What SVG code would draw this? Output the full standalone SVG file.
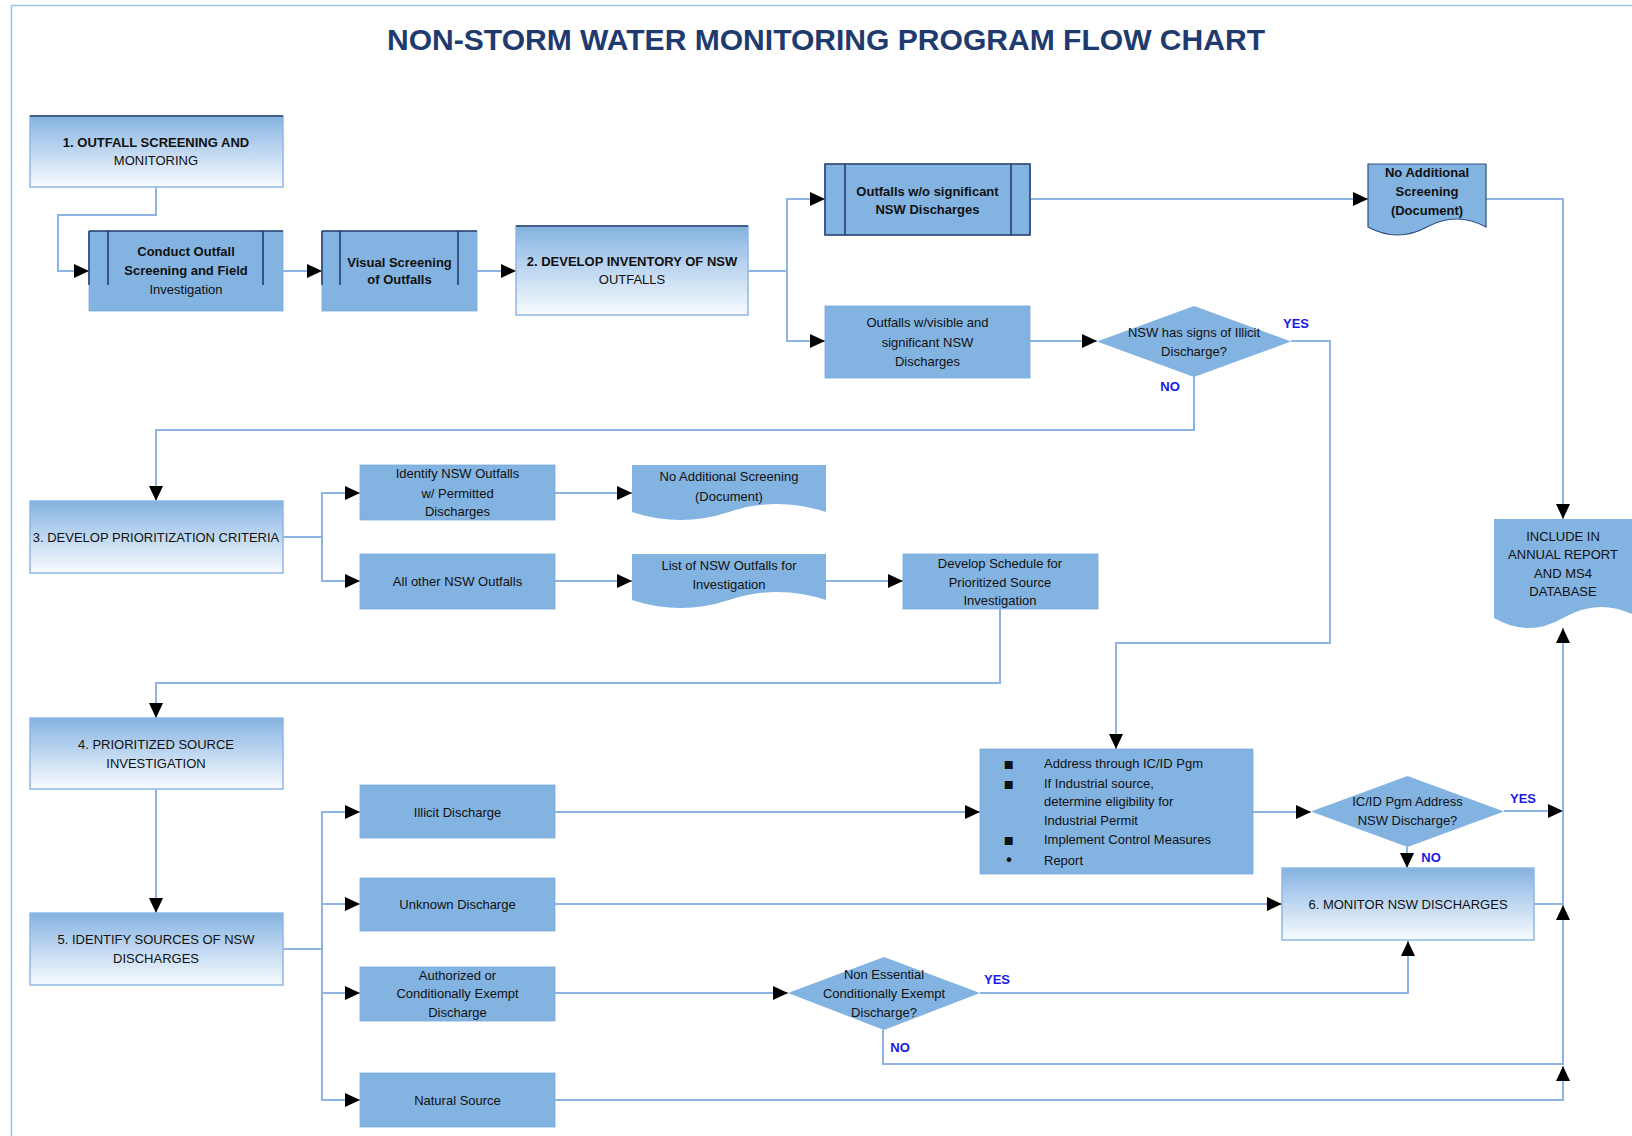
<svg xmlns="http://www.w3.org/2000/svg" width="1632" height="1136" viewBox="0 0 1632 1136">
<defs>
  <linearGradient id="grad" x1="0" y1="0" x2="0" y2="1">
    <stop offset="0" stop-color="#84B1DF"/>
    <stop offset="0.2" stop-color="#9DC2E8"/>
    <stop offset="1" stop-color="#F8FBFE"/>
  </linearGradient>
  <marker id="arr" markerUnits="userSpaceOnUse" markerWidth="16" markerHeight="14" refX="15" refY="7" orient="auto" viewBox="0 0 16 14">
    <path d="M0,0 L15,7 L0,14 Z" fill="#000"/>
  </marker>
  <style>
    .t { font-family: "Liberation Sans", Arial, sans-serif; font-size: 13px; fill: #111; text-anchor: middle; dominant-baseline: central; }
    .b { font-weight: bold; }
    .tl { text-anchor: start; }
    .bul { font-family: "DejaVu Sans", sans-serif; font-size: 16px; fill: #111; text-anchor: middle; dominant-baseline: central; }
    .lab { font-family: "Liberation Sans", Arial, sans-serif; font-size: 13px; font-weight: bold; fill: #1A1AE6; text-anchor: middle; dominant-baseline: central; }
    .title { font-family: "Liberation Sans", Arial, sans-serif; font-size: 30px; font-weight: bold; fill: #1F3A6E; text-anchor: middle; }
    .gbox { fill: url(#grad); stroke: #8FB8E4; stroke-width: 1.5; }
    .sbox { fill: #83B3E1; stroke: #7AAAD9; stroke-width: 0.8; }
    .dark { fill: none; stroke: #26406E; stroke-width: 1.6; }
    .dia { fill: #83B3E1; }
    .c { fill: none; stroke: #8DB4E2; stroke-width: 2; marker-end: url(#arr); }
    .frame { fill: none; stroke: #9DC3E6; stroke-width: 1.5; }
  </style>
</defs>
<rect width="1632" height="1136" fill="#fff"/>
<path class="frame" d="M11.5,1136 V5.5 H1632"/>
<text class="title" x="826" y="49.5" textLength="878" lengthAdjust="spacingAndGlyphs">NON-STORM WATER MONITORING PROGRAM FLOW CHART</text>

<g id="connectors">
  <path class="c" d="M156,187 V215 H58 V271 H89"/>
  <path class="c" d="M283,271 H322"/>
  <path class="c" d="M477,271 H516"/>
  <path class="c" d="M748,271 H787 V199 H825"/>
  <path class="c" d="M787,271 V341 H825"/>
  <path class="c" d="M1030,199 H1368"/>
  <path class="c" d="M1486,199 H1563 V519"/>
  <path class="c" d="M1030,341 H1097"/>
  <path class="c" d="M1291,341 H1330 V643 H1116 V749"/>
  <path class="c" d="M1194,377 V430 H156 V501"/>
  <path class="c" d="M283,537 H322 V493 H360"/>
  <path class="c" d="M322,537 V581 H360"/>
  <path class="c" d="M555,493 H632"/>
  <path class="c" d="M555,581 H632"/>
  <path class="c" d="M826,581 H903"/>
  <path class="c" d="M1000,609 V683 H156 V718"/>
  <path class="c" d="M156,789 V913"/>
  <path class="c" d="M283,949 H322 V812 H360"/>
  <path class="c" d="M322,904 H360"/>
  <path class="c" d="M322,949 V993 H360"/>
  <path class="c" d="M322,993 V1100 H360"/>
  <path class="c" d="M555,812 H980"/>
  <path class="c" d="M555,904 H1282"/>
  <path class="c" d="M555,993 H788"/>
  <path class="c" d="M555,1100 H1563 V1066"/>
  <path class="c" d="M1253,812 H1311"/>
  <path class="c" d="M1504,811 H1563"/>
  <path class="c" d="M1407,847 V868"/>
  <path class="c" d="M980,993 H1408 V941"/>
  <path class="c" d="M883,1030 V1064 H1563 V905"/>
  <path class="c" d="M1534,904 H1563 V628"/>
</g>

<g id="n1">
  <rect class="gbox" x="30" y="116" width="253" height="71"/>
  <line x1="30" y1="116" x2="283" y2="116" stroke="#26406E" stroke-width="1.6"/>
  <text class="t b" x="156" y="142">1. OUTFALL SCREENING AND</text>
  <text class="t" x="156" y="160">MONITORING</text>
</g>
<g id="n2">
  <rect class="sbox" x="89" y="231" width="194" height="80"/>
  <path class="dark" d="M89,231 H283 M108,231 V285 M263,231 V285 M89,231 V285"/>
  <text class="t b" x="186" y="251">Conduct Outfall</text>
  <text class="t b" x="186" y="270">Screening and Field</text>
  <text class="t" x="186" y="289">Investigation</text>
</g>
<g id="n3">
  <rect class="sbox" x="322" y="231" width="155" height="80"/>
  <path class="dark" d="M322,231 H477 M340,231 V285 M458,231 V285 M322,231 V285"/>
  <text class="t b" x="399.5" y="262">Visual Screening</text>
  <text class="t b" x="399.5" y="279">of Outfalls</text>
</g>
<g id="n4">
  <rect class="gbox" x="516" y="226" width="232" height="89"/>
  <line x1="516" y1="226" x2="748" y2="226" stroke="#26406E" stroke-width="1.6"/>
  <text class="t b" x="632" y="261">2. DEVELOP INVENTORY OF NSW</text>
  <text class="t" x="632" y="279">OUTFALLS</text>
</g>
<g id="n5">
  <rect class="sbox" x="825" y="164" width="205" height="71"/>
  <path class="dark" d="M825,164 H1030 V235 H825 Z M845,164 V235 M1011,164 V235"/>
  <text class="t b" x="927.5" y="191">Outfalls w/o significant</text>
  <text class="t b" x="927.5" y="209">NSW Discharges</text>
</g>
<g id="n6">
  <rect class="sbox" x="825" y="306" width="205" height="72"/>
  <text class="t" x="927.5" y="322">Outfalls w/visible and</text>
  <text class="t" x="927.5" y="342">significant NSW</text>
  <text class="t" x="927.5" y="361">Discharges</text>
</g>
<g id="n7">
  <path class="dia" d="M1097,341.5 L1194,306 L1291,341.5 L1194,377 Z"/>
  <text class="t" x="1194" y="332">NSW has signs of Illicit</text>
  <text class="t" x="1194" y="351">Discharge?</text>
</g>
<g id="n8">
  <path d="M1368,164 H1486 V227 Q1456.5,211 1427,227 Q1397.5,243 1368,227 Z" fill="#83B3E1" stroke="#2F4F7F" stroke-width="1.2"/>
  <text class="t b" x="1427" y="172">No Additional</text>
  <text class="t b" x="1427" y="191">Screening</text>
  <text class="t b" x="1427" y="210">(Document)</text>
</g>
<g id="n9">
  <rect class="gbox" x="30" y="501" width="253" height="72"/>
  <text class="t" x="156" y="537">3. DEVELOP PRIORITIZATION CRITERIA</text>
</g>
<g id="n10">
  <rect class="sbox" x="360" y="465" width="195" height="55"/>
  <text class="t" x="457.5" y="473">Identify NSW Outfalls</text>
  <text class="t" x="457.5" y="493">w/ Permitted</text>
  <text class="t" x="457.5" y="511">Discharges</text>
</g>
<g id="n11">
  <path d="M632,465 H826 V512 Q777.5,496 729,512 Q680.5,528 632,512 Z" fill="#83B3E1"/>
  <text class="t" x="729" y="476">No Additional Screening</text>
  <text class="t" x="729" y="496">(Document)</text>
</g>
<g id="n12">
  <rect class="sbox" x="360" y="554" width="195" height="55"/>
  <text class="t" x="457.5" y="581">All other NSW Outfalls</text>
</g>
<g id="n13">
  <path d="M632,554 H826 V600 Q777.5,584 729,600 Q680.5,616 632,600 Z" fill="#83B3E1"/>
  <text class="t" x="729" y="565">List of NSW Outfalls for</text>
  <text class="t" x="729" y="584">Investigation</text>
</g>
<g id="n14">
  <rect class="sbox" x="903" y="554" width="195" height="55"/>
  <text class="t" x="1000" y="563">Develop Schedule for</text>
  <text class="t" x="1000" y="582">Prioritized Source</text>
  <text class="t" x="1000" y="600">Investigation</text>
</g>
<g id="n15">
  <path d="M1494,519 H1632 V614 Q1597.5,598 1563,618 Q1528.5,638 1494,618 Z" fill="#83B3E1"/>
  <text class="t" x="1563" y="536">INCLUDE IN</text>
  <text class="t" x="1563" y="554">ANNUAL REPORT</text>
  <text class="t" x="1563" y="573">AND MS4</text>
  <text class="t" x="1563" y="591">DATABASE</text>
</g>
<g id="n16">
  <rect class="gbox" x="30" y="718" width="253" height="71"/>
  <text class="t" x="156" y="744">4. PRIORITIZED SOURCE</text>
  <text class="t" x="156" y="763">INVESTIGATION</text>
</g>
<g id="n17">
  <rect class="gbox" x="30" y="913" width="253" height="72"/>
  <text class="t" x="156" y="939">5. IDENTIFY SOURCES OF NSW</text>
  <text class="t" x="156" y="958">DISCHARGES</text>
</g>
<g id="n18">
  <rect class="sbox" x="360" y="785" width="195" height="53"/>
  <text class="t" x="457.5" y="812">Illicit Discharge</text>
</g>
<g id="n19">
  <rect class="sbox" x="360" y="878" width="195" height="53"/>
  <text class="t" x="457.5" y="904">Unknown Discharge</text>
</g>
<g id="n20">
  <rect class="sbox" x="360" y="967" width="195" height="54"/>
  <text class="t" x="457.5" y="975">Authorized or</text>
  <text class="t" x="457.5" y="993">Conditionally Exempt</text>
  <text class="t" x="457.5" y="1012">Discharge</text>
</g>
<g id="n21">
  <rect class="sbox" x="360" y="1073" width="195" height="54"/>
  <text class="t" x="457.5" y="1100">Natural Source</text>
</g>
<g id="n22">
  <rect class="sbox" x="980" y="749" width="273" height="125"/>
  <text class="bul" x="1009" y="763">▪</text>
  <text class="t tl" x="1044" y="763">Address through IC/ID Pgm</text>
  <text class="bul" x="1009" y="783">▪</text>
  <text class="t tl" x="1044" y="783">If Industrial source,</text>
  <text class="t tl" x="1044" y="801">determine eligibility for</text>
  <text class="t tl" x="1044" y="820">Industrial Permit</text>
  <text class="bul" x="1009" y="839">▪</text>
  <text class="t tl" x="1044" y="839">Implement Control Measures</text>
  <text class="bul" x="1009" y="860">•</text>
  <text class="t tl" x="1044" y="860">Report</text>
</g>
<g id="n23">
  <path class="dia" d="M1311,811.5 L1407.5,776 L1504,811.5 L1407.5,847 Z"/>
  <text class="t" x="1407.5" y="801">IC/ID Pgm Address</text>
  <text class="t" x="1407.5" y="820">NSW Discharge?</text>
</g>
<g id="n24">
  <rect class="gbox" x="1282" y="868" width="252" height="72"/>
  <text class="t" x="1408" y="904">6. MONITOR NSW DISCHARGES</text>
</g>
<g id="n25">
  <path class="dia" d="M788,993 L884,957 L980,993 L884,1030 Z"/>
  <text class="t" x="884" y="974">Non Essential</text>
  <text class="t" x="884" y="993">Conditionally Exempt</text>
  <text class="t" x="884" y="1012">Discharge?</text>
</g>

<g id="labels">
  <text class="lab" x="1296" y="323">YES</text>
  <text class="lab" x="1170" y="386">NO</text>
  <text class="lab" x="1523" y="798">YES</text>
  <text class="lab" x="1431" y="857">NO</text>
  <text class="lab" x="997" y="979">YES</text>
  <text class="lab" x="900" y="1047">NO</text>
</g>
</svg>
